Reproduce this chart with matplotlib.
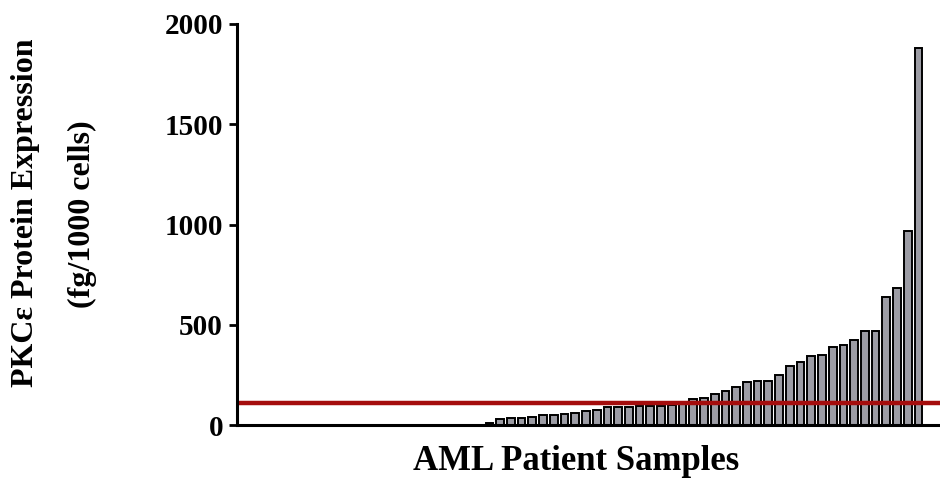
import numpy as np
import matplotlib
matplotlib.use("Agg")
import matplotlib.pyplot as plt

plt.rcParams['font.family'] = ['Liberation Serif', 'DejaVu Serif']
plt.rcParams['font.weight'] = 'bold'

# PKCe expression per AML sample, sorted ascending (23 samples below detection)
n_zero = 23
detected = [12, 32, 33, 35, 42, 50, 52, 53, 58, 72,
            73, 88, 90, 92, 95, 97, 97, 100, 105, 128,
            135, 153, 168, 192, 215, 220, 220, 248, 292, 313,
            342, 350, 389, 397, 422, 467, 467, 638, 683, 970,
            1880]
expression = [0] * n_zero + detected
cutoff = 112  # threshold line
yticks = [0, 500, 1000, 1500, 2000]

fig = plt.figure(figsize=(9.4, 4.79), dpi=100)
ax = fig.add_axes([237 / 940, 54 / 479, 703 / 940, 401 / 479])

x = np.arange(len(expression))
ax.bar(x, expression, width=0.72, color='#9c9ca4', edgecolor='black', linewidth=1.4, zorder=2)
ax.axhline(cutoff, color='#a50d0d', linewidth=3.2, zorder=3)

ax.set_xlim(-0.53, 65.0)
ax.set_ylim(0, 2000)
ax.set_yticks(yticks)
ax.set_xticks([])
ax.tick_params(axis='y', direction='out', length=6, width=2, pad=4, labelsize=21)
for lab in ax.get_yticklabels():
    lab.set_fontweight('bold')

for side in ['top', 'right']:
    ax.spines[side].set_visible(False)
for side in ['left', 'bottom']:
    ax.spines[side].set_linewidth(2.2)
    ax.spines[side].set_zorder(4)

fig.text(576 / 940, 1 - 461 / 479, 'AML Patient Samples', ha='center', va='center',
         fontsize=25, fontweight='bold')
fig.text(26 / 940, 1 - 213 / 479, 'PKCε Protein Expression', rotation=90,
         ha='center', va='center', fontsize=23, fontweight='bold')
fig.text(82 / 940, 1 - 214 / 479, '(fg/1000 cells)', rotation=90,
         ha='center', va='center', fontsize=23, fontweight='bold')

fig.savefig('out.png', dpi=100)
